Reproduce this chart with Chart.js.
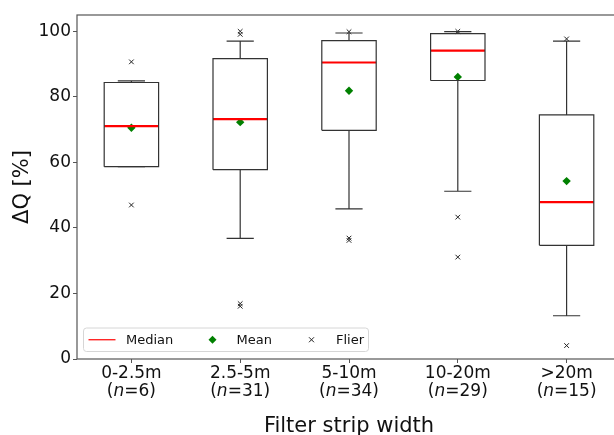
<!DOCTYPE html>
<html>
<head>
<meta charset="utf-8">
<script src="https://cdn.jsdelivr.net/npm/chart.js@4.4.1/dist/chart.umd.min.js"></script>
<style>
  html, body { margin: 0; padding: 0; background: #fff; overflow: hidden; }
</style>
</head>
<body>
<canvas id="boxChart" width="626" height="435"></canvas>
<script>
// === data ===
const categories = ['0-2.5m', '2.5-5m', '5-10m', '10-20m', '>20m'];
const sampleSizes = [6, 31, 34, 29, 15];
const whiskerLow = [58.7, 36.8, 45.8, 51.2, 13.2];
const q1 = [58.7, 57.8, 69.8, 85.0, 34.7];
const medians = [71.1, 73.2, 90.5, 94.1, 47.9];
const q3 = [84.4, 91.7, 97.2, 99.3, 74.5];
const whiskerHigh = [84.9, 97.0, 99.5, 99.9, 97.0];
const means = [70.6, 72.3, 81.9, 86.1, 54.3];
const fliers = [
    [90.7, 47.0],
    [100.0, 99.1, 16.9, 16.1],
    [99.9, 36.9, 36.2],
    [100.0, 43.3, 31.1],
    [97.7, 4.1]
];
const yTicks = [0, 20, 40, 60, 80, 100];

const FONT = '"DejaVu Sans", sans-serif';
const TEXT = '#111';
const HALF = 0.25;   // half box width (x units)
const CAP = 0.125;   // half whisker cap width
const GAP = { x: null, y: null };

// === build line segments (null points break the line) ===
const boxPts = [], whiskerPts = [], medianPts = [], meanPts = [], flierPts = [];
categories.forEach((c, i) => {
    const x = i + 1;
    boxPts.push({ x: x - HALF, y: q1[i] }, { x: x + HALF, y: q1[i] }, { x: x + HALF, y: q3[i] },
                { x: x - HALF, y: q3[i] }, { x: x - HALF, y: q1[i] }, GAP);
    whiskerPts.push({ x: x, y: q1[i] }, { x: x, y: whiskerLow[i] }, GAP,
                    { x: x - CAP, y: whiskerLow[i] }, { x: x + CAP, y: whiskerLow[i] }, GAP,
                    { x: x, y: q3[i] }, { x: x, y: whiskerHigh[i] }, GAP,
                    { x: x - CAP, y: whiskerHigh[i] }, { x: x + CAP, y: whiskerHigh[i] }, GAP);
    medianPts.push({ x: x - HALF, y: medians[i] }, { x: x + HALF, y: medians[i] }, GAP);
    meanPts.push({ x: x, y: means[i] });
    fliers[i].forEach(v => flierPts.push({ x: x, y: v }));
});

const lineSet = (data, color, width) => ({
    data, showLine: true, spanGaps: false, borderColor: color, borderWidth: width,
    pointRadius: 0, pointHoverRadius: 0, tension: 0, fill: false
});

// === frame, x labels, x title and legend ===
const extras = {
    id: 'extras',
    afterDraw(chart) {
        const { ctx, chartArea: a, scales: { x } } = chart;
        ctx.save();
        ctx.strokeStyle = '#555';
        ctx.lineWidth = 1.2;
        ctx.strokeRect(a.left, a.top, a.right - a.left, a.bottom - a.top);

        // two-line category labels, italic n
        ctx.fillStyle = TEXT;
        ctx.textBaseline = 'middle';
        categories.forEach((c, i) => {
            const px = x.getPixelForValue(i + 1);
            ctx.font = '17px ' + FONT;
            ctx.textAlign = 'center';
            ctx.fillText(c, px, a.bottom + 14.5);
            const parts = [['(', ''], ['n', 'italic '], ['=' + sampleSizes[i] + ')', '']];
            let total = 0;
            parts.forEach(p => { ctx.font = p[1] + '17px ' + FONT; total += ctx.measureText(p[0]).width; });
            let cx = px - total / 2;
            ctx.textAlign = 'left';
            parts.forEach(p => {
                ctx.font = p[1] + '17px ' + FONT;
                ctx.fillText(p[0], cx, a.bottom + 33);
                cx += ctx.measureText(p[0]).width;
            });
        });

        // axis title
        ctx.font = '21px ' + FONT;
        ctx.textAlign = 'center';
        ctx.fillText('Filter strip width', (a.left + a.right) / 2, a.bottom + 68);

        // legend
        const lx = a.left + 6.5, ly = a.bottom - 31, lw = 285, lh = 23.5;
        ctx.fillStyle = 'rgba(255,255,255,0.8)';
        ctx.strokeStyle = '#d6d6d6';
        ctx.lineWidth = 1;
        ctx.beginPath();
        ctx.roundRect(lx, ly, lw, lh, 3);
        ctx.fill();
        ctx.stroke();
        const my = ly + lh / 2;
        ctx.strokeStyle = '#ff0000';
        ctx.lineWidth = 1.2;
        ctx.beginPath();
        ctx.moveTo(lx + 5, my);
        ctx.lineTo(lx + 32, my);
        ctx.stroke();
        ctx.fillStyle = '#008000';
        ctx.beginPath();
        ctx.moveTo(lx + 129, my - 4); ctx.lineTo(lx + 133, my); ctx.lineTo(lx + 129, my + 4); ctx.lineTo(lx + 125, my);
        ctx.closePath();
        ctx.fill();
        ctx.strokeStyle = '#222';
        ctx.lineWidth = 1;
        ctx.beginPath();
        ctx.moveTo(lx + 225.5, my - 2.5); ctx.lineTo(lx + 230.5, my + 2.5);
        ctx.moveTo(lx + 230.5, my - 2.5); ctx.lineTo(lx + 225.5, my + 2.5);
        ctx.stroke();
        ctx.fillStyle = TEXT;
        ctx.font = '13px ' + FONT;
        ctx.textAlign = 'left';
        ctx.fillText('Median', lx + 42.5, my + 0.5);
        ctx.fillText('Mean', lx + 153, my + 0.5);
        ctx.fillText('Flier', lx + 252.5, my + 0.5);
        ctx.restore();
    }
};

new Chart(document.getElementById('boxChart'), {
    type: 'scatter',
    data: {
        datasets: [
            lineSet(boxPts, '#333', 1.2),
            lineSet(whiskerPts, '#333', 1.2),
            lineSet(medianPts, '#ff0000', 2.2),
            { data: meanPts, pointStyle: 'rectRot', radius: 4.2, backgroundColor: '#008000', borderColor: '#008000', borderWidth: 0 },
            { data: flierPts, pointStyle: 'crossRot', radius: 3.3, borderColor: '#222', borderWidth: 1 }
        ]
    },
    options: {
        responsive: false,
        animation: false,
        devicePixelRatio: 1,
        layout: { padding: { top: 15, right: 2, left: 0, bottom: 0 } },
        plugins: { legend: { display: false }, tooltip: { enabled: false } },
        scales: {
            x: {
                type: 'linear', min: 0.5, max: 5.5,
                afterBuildTicks: s => { s.ticks = categories.map((c, i) => ({ value: i + 1 })); },
                afterFit: s => { s.height = 76; },
                ticks: { display: false },
                border: { display: false },
                grid: { drawOnChartArea: false, drawTicks: true, tickLength: 4, tickColor: '#555', lineWidth: 1 }
            },
            y: {
                min: 0, max: 105,
                afterBuildTicks: s => { s.ticks = yTicks.map(v => ({ value: v })); },
                afterFit: s => { s.width = 77; },
                ticks: { font: { family: FONT, size: 17 }, color: TEXT, padding: 2 },
                border: { display: false },
                grid: { drawOnChartArea: false, drawTicks: true, tickLength: 4, tickColor: '#555', lineWidth: 1 },
                title: { display: true, text: 'ΔQ [%]', font: { family: FONT, size: 21 }, color: TEXT, padding: { top: 9.5, bottom: 0 } }
            }
        }
    },
    plugins: [extras]
});
</script>
</body>
</html>
